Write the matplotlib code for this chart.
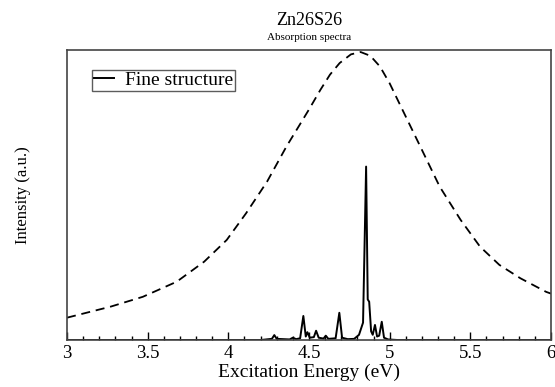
import matplotlib
matplotlib.use("Agg")
import matplotlib.pyplot as plt
from matplotlib.ticker import MultipleLocator

plt.rcParams['font.family'] = ['Liberation Serif', 'DejaVu Serif']

# Broadened absorption spectrum (dashed)
E_broad = [3.00, 3.27, 3.47, 3.68, 3.85, 3.99, 4.11, 4.24, 4.36, 4.44, 4.50,
           4.57, 4.63, 4.69, 4.76, 4.82, 4.88, 4.94, 5.00, 5.06, 5.19, 5.31, 5.44, 5.56,
           5.68, 5.81, 5.97, 6.00]
I_broad = [0.077, 0.115, 0.149, 0.201, 0.270, 0.345, 0.437, 0.546, 0.667, 0.740, 0.795,
           0.862, 0.915, 0.955, 0.985, 0.993, 0.980, 0.943, 0.885, 0.816, 0.667, 0.529,
           0.414, 0.322, 0.259, 0.213, 0.166, 0.160]

# Fine structure (solid)
E_fine = [3.00, 4.20, 4.270, 4.285, 4.300, 4.380, 4.400, 4.420, 4.445, 4.465, 4.480,
          4.490, 4.505, 4.530, 4.544, 4.560, 4.590, 4.604, 4.620, 4.665, 4.688, 4.705,
          4.740, 4.780, 4.810, 4.835, 4.854, 4.864, 4.873, 4.885, 4.895, 4.909, 4.922,
          4.935, 4.951, 4.965, 4.990, 5.050, 6.00]
I_fine = [0.0, 0.0, 0.004, 0.017, 0.004, 0.002, 0.008, 0.003, 0.006, 0.083, 0.012,
          0.027, 0.008, 0.010, 0.032, 0.008, 0.005, 0.015, 0.004, 0.006, 0.094, 0.008,
          0.003, 0.004, 0.018, 0.060, 0.598, 0.140, 0.132, 0.030, 0.018, 0.052, 0.012,
          0.015, 0.063, 0.008, 0.002, 0.0, 0.0]

x_ticks = [3, 3.5, 4, 4.5, 5, 5.5, 6]
x_ticklabels = ['3', '3.5', '4', '4.5', '5', '5.5', '6']

fig = plt.figure(figsize=(5.55, 3.87), dpi=100)
ax = fig.add_axes([0.1207, 0.1214, 0.8721, 0.7494])

ax.plot(E_broad, I_broad, color='black', linestyle=(0, (5, 3.2)), linewidth=1.3)
ax.plot(E_fine, I_fine, color='black', linewidth=1.4, label='Fine structure')

ax.set_xlim(3, 6)
ax.set_ylim(0, 1.0)
ax.set_xticks(x_ticks)
ax.set_xticklabels(x_ticklabels, fontsize=13.5)
ax.xaxis.set_minor_locator(MultipleLocator(0.1))
ax.set_yticks([])
ax.tick_params(axis='x', which='major', direction='in', length=5.5, width=1.0,
               pad=3.5, colors='black', top=False)
ax.tick_params(axis='x', which='minor', direction='in', length=2.8, width=1.0, top=False)
for s in ax.spines.values():
    s.set_color('#444444')
    s.set_linewidth(1.2)

ax.set_xlabel('Excitation Energy (eV)', fontsize=14, labelpad=1.5)
ax.set_ylabel('Intensity (a.u.)', fontsize=12, labelpad=26)

fig.text(0.557, 0.947, 'Zn26S26', ha='center', va='center', fontsize=13)
fig.text(0.557, 0.902, 'Absorption spectra', ha='center', va='center', fontsize=8)

leg = ax.legend(loc='upper left', bbox_to_anchor=(0.052, 0.932), fontsize=14,
                frameon=True, fancybox=False, shadow=False, handlelength=1.0,
                handletextpad=0.6, borderpad=0.1, borderaxespad=0.0)
leg.get_frame().set_edgecolor('#333333')
leg.get_frame().set_linewidth(1.0)

fig.savefig('out.png', dpi=100)
